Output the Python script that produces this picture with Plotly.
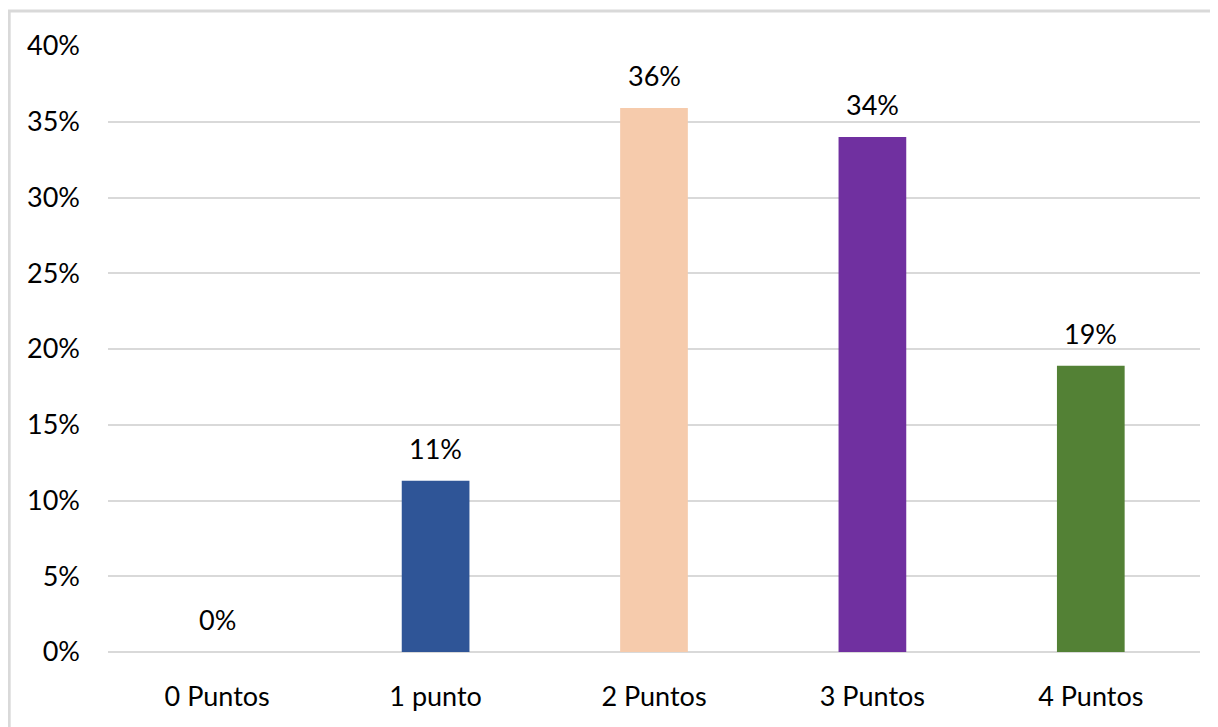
import plotly.graph_objects as go

categorias = ["0 Puntos", "1 punto", "2 Puntos", "3 Puntos", "4 Puntos"]
valores = [0.0, 11.3, 35.9, 34.0, 18.9]
etiquetas = ["0%", "11%", "36%", "34%", "19%"]
colores = ["#2F5597", "#2F5597", "#F6CBAC", "#7030A0", "#538135"]
ticks_y = [0, 5, 10, 15, 20, 25, 30, 35, 40]
ticks_y_txt = ["0%", "5%", "10%", "15%", "20%", "25%", "30%", "35%", "40%"]

fuente = "Lato"
tam = 27

fig = go.Figure(go.Bar(x=categorias, y=valores, marker=dict(color=colores, line=dict(width=0)),
                       hoverinfo="skip"))

# etiquetas de datos encima de cada barra
for c, v, t in zip(categorias, valores, etiquetas):
    fig.add_annotation(x=c, y=v, text=t, showarrow=False, yanchor="bottom", yshift=14,
                       font=dict(family=fuente, size=tam, color="#000000"))

# marco gris del grafico
fig.add_shape(type="rect", xref="paper", yref="paper", x0=-0.0905, x1=1.06, y0=-0.16, y1=1.0578,
              line=dict(color="#D9D9D9", width=3))

fig.update_layout(
    width=1218, height=727,
    margin=dict(l=100, r=26, t=38, b=83),
    paper_bgcolor="white", plot_bgcolor="white",
    bargap=0.69, showlegend=False,
    font=dict(family=fuente, size=tam, color="#000000"),
)
fig.update_xaxes(showgrid=False, showline=False, ticks="", ticklabelstandoff=26,
                 tickfont=dict(family=fuente, size=tam))
fig.update_yaxes(range=[0, 40], tickvals=ticks_y, ticktext=ticks_y_txt, showgrid=True,
                 gridcolor="#D9D9D9", gridwidth=2, zeroline=True, zerolinecolor="#D9D9D9",
                 zerolinewidth=2, ticks="", ticklabelstandoff=27, tickfont=dict(family=fuente, size=tam))

fig.write_html("out.html")
